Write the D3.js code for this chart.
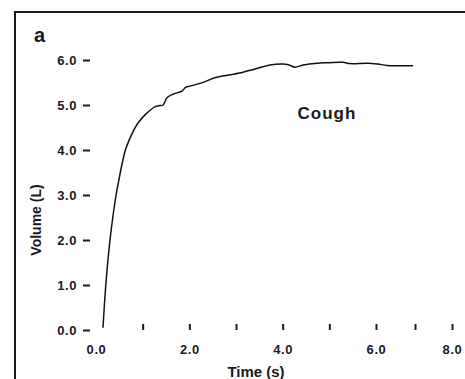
<!DOCTYPE html>
<html>
<head>
<meta charset="utf-8">
<script src="https://cdn.jsdelivr.net/npm/d3@7"></script>
<style>
  html, body { margin: 0; padding: 0; background: #fff; }
  svg { display: block; }
  text { font-family: "Liberation Sans", Arial, Helvetica, sans-serif; font-weight: bold; fill: #1a1a1a; }
</style>
</head>
<body>
<svg id="chart" width="465" height="379"></svg>
<script>
// Cough manoeuvre: exhaled volume (L) against time (s)
const timeS = [0.15, 0.21, 0.30, 0.43, 0.49, 0.56, 0.63, 0.71, 0.80, 0.90, 1.05, 1.26, 1.37, 1.44, 1.52, 1.65, 1.84, 1.93, 2.01, 2.34, 2.53, 2.87, 3.15, 3.34, 3.73, 3.99, 4.14, 4.26, 4.44, 4.74, 4.97, 5.29, 5.44, 5.83, 6.05, 6.28, 6.95];
const volumeL = [0.05, 1.00, 2.00, 3.00, 3.33, 3.70, 4.00, 4.22, 4.42, 4.60, 4.78, 4.96, 4.99, 5.00, 5.16, 5.24, 5.31, 5.40, 5.42, 5.52, 5.60, 5.67, 5.73, 5.78, 5.89, 5.91, 5.89, 5.84, 5.89, 5.93, 5.94, 5.95, 5.92, 5.93, 5.91, 5.88, 5.87];

const yTicks = [0, 1, 2, 3, 4, 5, 6];
const xTickMarks = [1, 2, 3, 4, 5, 6, 7, 8];
const xTickLabels = [0, 2, 4, 6, 8];
const panelLabel = "a";
const curveLabel = "Cough";
const xTitle = "Time (s)";
const yTitle = "Volume (L)";

const svg = d3.select("#chart");
const ink = "#1a1a1a";

// the time axis of this panel is compressed beyond 6 s
const x = d3.scaleLinear().domain([0, 6, 7, 8]).range([96, 376, 415, 452]);
const y = d3.scaleLinear().domain([0, 6]).range([330, 60]);

// panel frame (top and left edges)
svg.append("path")
  .attr("d", "M15,379 L15,12 L465,12")
  .attr("fill", "none")
  .attr("stroke", ink)
  .attr("stroke-width", 2);

svg.append("text")
  .attr("x", 34).attr("y", 42)
  .attr("font-size", 20)
  .text(panelLabel);

// y axis: detached tick dashes with labels
const yAxis = svg.append("g")
  .attr("transform", "translate(90,0)")
  .call(d3.axisLeft(y).tickValues(yTicks).tickSize(7).tickPadding(6).tickFormat(d3.format(".1f")));
yAxis.select(".domain").remove();
yAxis.selectAll(".tick line").attr("stroke", ink).attr("stroke-width", 2);
yAxis.selectAll(".tick text")
  .attr("font-size", 13).attr("letter-spacing", 0.6)
  .attr("font-family", null).attr("fill", ink);

// x axis: tick marks and labels drawn separately
const xMarks = svg.append("g")
  .attr("transform", "translate(0,324)")
  .call(d3.axisBottom(x).tickValues(xTickMarks).tickSize(6).tickFormat(""));
xMarks.select(".domain").remove();
xMarks.selectAll(".tick line").attr("stroke", ink).attr("stroke-width", 2);

const xLabels = svg.append("g")
  .attr("transform", "translate(0,330)")
  .call(d3.axisBottom(x).tickValues(xTickLabels).tickSize(0).tickPadding(15).tickFormat(d3.format(".1f")));
xLabels.select(".domain").remove();
xLabels.selectAll(".tick text")
  .attr("font-size", 13).attr("letter-spacing", 0.6)
  .attr("font-family", null).attr("fill", ink);

svg.append("text")
  .attr("x", 256).attr("y", 377)
  .attr("text-anchor", "middle")
  .attr("font-size", 15)
  .text(xTitle);

svg.append("text")
  .attr("transform", "translate(41,220) rotate(-90)")
  .attr("text-anchor", "middle")
  .attr("font-size", 14)
  .text(yTitle);

svg.append("text")
  .attr("x", 327).attr("y", 119)
  .attr("text-anchor", "middle")
  .attr("font-size", 17)
  .attr("letter-spacing", 1)
  .text(curveLabel);

// volume-time curve
const points = timeS.map((t, i) => [t, volumeL[i]]);
svg.append("path")
  .datum(points)
  .attr("fill", "none")
  .attr("stroke", "#111")
  .attr("stroke-width", 1.5)
  .attr("stroke-linejoin", "round")
  .attr("d", d3.line().x(d => x(d[0])).y(d => y(d[1])).curve(d3.curveCatmullRom.alpha(0.5)));
</script>
</body>
</html>
